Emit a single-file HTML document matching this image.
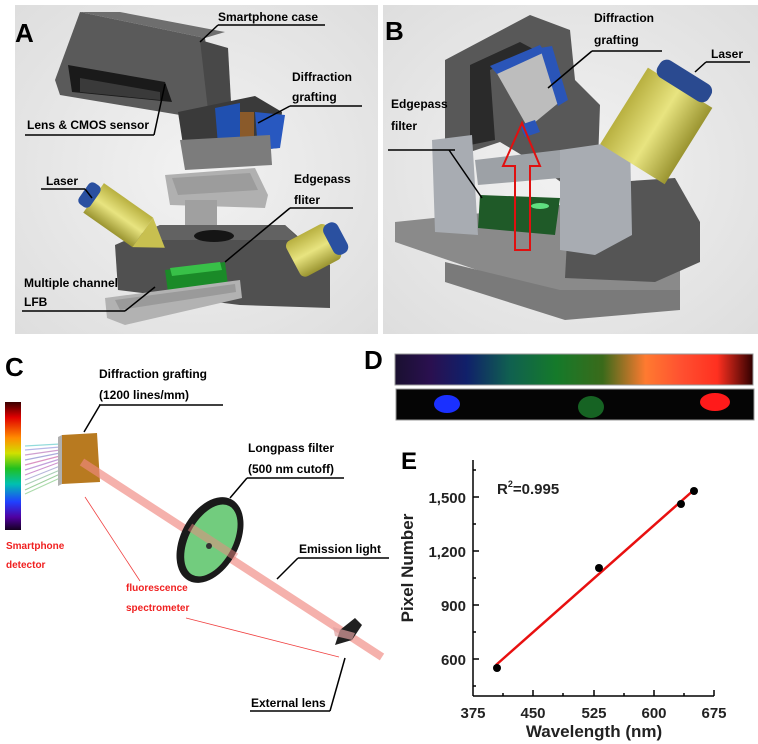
<!DOCTYPE html>
<html><head><meta charset="utf-8"><style>
html,body{margin:0;padding:0;background:#fff;}
svg{display:block;}
text{font-family:"Liberation Sans",sans-serif;font-weight:bold;}
</style></head><body>
<svg width="758" height="744" viewBox="0 0 758 744" xmlns="http://www.w3.org/2000/svg">
<defs>
<radialGradient id="bgA" cx="0.5" cy="0.5" r="0.7"><stop offset="0" stop-color="#f2f2f2"/><stop offset="1" stop-color="#dedede"/></radialGradient>
<linearGradient id="spec" x1="0" y1="0" x2="0" y2="1">
<stop offset="0" stop-color="#3a0000"/><stop offset="0.12" stop-color="#e00000"/><stop offset="0.28" stop-color="#ff8c00"/><stop offset="0.4" stop-color="#d0e000"/><stop offset="0.52" stop-color="#20c020"/><stop offset="0.64" stop-color="#00c0b0"/><stop offset="0.78" stop-color="#2040ff"/><stop offset="0.9" stop-color="#5000a0"/><stop offset="1" stop-color="#150020"/></linearGradient>
<linearGradient id="specD" x1="0" y1="0" x2="1" y2="0">
<stop offset="0" stop-color="#1a1030"/><stop offset="0.1" stop-color="#2a1050"/><stop offset="0.2" stop-color="#10206a"/><stop offset="0.32" stop-color="#106050"/><stop offset="0.45" stop-color="#157a2a"/><stop offset="0.58" stop-color="#3a6a1a"/><stop offset="0.7" stop-color="#ff7a30"/><stop offset="0.8" stop-color="#ff5030"/><stop offset="0.9" stop-color="#ff3020"/><stop offset="1" stop-color="#300000"/></linearGradient>
<linearGradient id="yel" x1="0" y1="0" x2="0" y2="1"><stop offset="0" stop-color="#b8b040"/><stop offset="0.5" stop-color="#e8e480"/><stop offset="1" stop-color="#9a9430"/></linearGradient>
</defs>

<!-- Panel A -->
<rect x="15" y="5" width="363" height="329" fill="url(#bgA)"/>
<polygon points="55,80 80,12 205,38 215,110 198,118 60,95" fill="#5a5a5a"/>
<polygon points="80,12 120,12 225,32 205,38" fill="#6e6e6e"/>
<polygon points="200,40 228,48 232,120 210,128" fill="#484848"/>
<polygon points="68,65 165,82 172,102 72,92" fill="#1a1a1a"/>
<polygon points="80,78 160,92 160,100 80,92" fill="#3a3a3a"/>
<polygon points="178,112 255,96 282,112 278,148 185,158" fill="#3a3a3a"/>
<polygon points="215,108 240,103 240,140 218,145" fill="#2050b0"/>
<polygon points="255,112 285,115 280,148 258,150" fill="#2858c0"/>
<rect x="240" y="112" width="14" height="28" fill="#8a5a2a"/>
<polygon points="180,140 270,135 272,165 185,170" fill="#7c7c7c"/>
<polygon points="165,175 255,168 268,195 265,208 170,205" fill="#b0b0b0"/>
<polygon points="172,178 250,173 258,190 178,195" fill="#9c9c9c"/>
<rect x="185" y="200" width="32" height="32" fill="#a0a0a0"/>
<polygon points="115,245 160,225 285,225 330,265 330,308 240,305 118,290" fill="#505050"/>
<polygon points="160,225 285,225 300,240 135,240" fill="#626262"/>
<ellipse cx="214" cy="236" rx="20" ry="6" fill="#151515"/>
<polygon points="165,270 225,262 228,285 168,292" fill="#1a8a28"/>
<polygon points="170,268 220,262 222,270 172,276" fill="#38c048"/>
<polygon points="105,298 240,280 242,298 125,325 107,318" fill="#b2b2b2"/>
<polygon points="115,300 235,284 236,292 120,310" fill="#9a9a9a"/>
<g transform="translate(128,222) rotate(35)"><rect x="-42" y="-18" width="60" height="36" fill="url(#yel)"/><polygon points="18,-18 45,0 18,18" fill="#c8c050"/><rect x="-54" y="-13" width="14" height="26" rx="5" fill="#2a50a0"/></g>
<g transform="translate(318,248) rotate(-28)"><rect x="-28" y="-20" width="46" height="40" rx="6" fill="url(#yel)"/><rect x="12" y="-17" width="16" height="34" rx="7" fill="#2a50a0"/></g>
<text x="15" y="42" font-size="26" fill="#000">A</text>
<g font-size="12" fill="#000">
<text x="218" y="21">Smartphone case</text><line x1="218" y1="25" x2="325" y2="25" stroke="#000" stroke-width="1.5"/><line x1="218" y1="25" x2="200" y2="42" stroke="#000" stroke-width="1.5"/>
<text x="292" y="81">Diffraction</text><text x="292" y="101">grafting</text><line x1="290" y1="106" x2="362" y2="106" stroke="#000" stroke-width="1.5"/><line x1="290" y1="106" x2="258" y2="123" stroke="#000" stroke-width="1.5"/>
<text x="27" y="129">Lens &amp; CMOS sensor</text><line x1="25" y1="135" x2="154" y2="135" stroke="#000" stroke-width="1.5"/><line x1="154" y1="135" x2="165" y2="84" stroke="#000" stroke-width="1.5"/>
<text x="46" y="185">Laser</text><line x1="41" y1="189" x2="85" y2="189" stroke="#000" stroke-width="1.5"/><line x1="85" y1="189" x2="92" y2="198" stroke="#000" stroke-width="1.5"/>
<text x="294" y="183">Edgepass</text><text x="294" y="204">fliter</text><line x1="290" y1="208" x2="353" y2="208" stroke="#000" stroke-width="1.5"/><line x1="290" y1="208" x2="225" y2="262" stroke="#000" stroke-width="1.5"/>
<text x="24" y="287">Multiple channel</text><text x="24" y="306">LFB</text><line x1="22" y1="311" x2="125" y2="311" stroke="#000" stroke-width="1.5"/><line x1="125" y1="311" x2="155" y2="287" stroke="#000" stroke-width="1.5"/>
</g>

<!-- Panel B -->
<rect x="383" y="5" width="375" height="329" fill="url(#bgA)"/>
<polygon points="395,222 560,205 680,268 680,292 565,300 395,242" fill="#8a8a8a"/>
<polygon points="445,262 560,290 680,290 680,310 565,320 445,282" fill="#7a7a7a"/>
<polygon points="570,185 675,178 700,222 700,262 655,282 565,278" fill="#555555"/>
<polygon points="445,60 530,15 570,30 575,80 600,105 598,162 565,185 530,160 500,142 470,152 445,140" fill="#585858"/>
<polygon points="470,65 520,42 535,50 490,70 495,140 470,145" fill="#2a2a2a"/>
<polygon points="495,70 540,48 562,100 528,128" fill="#bdbdbd"/>
<polygon points="490,66 540,45 545,52 497,74" fill="#2a55b8"/>
<polygon points="540,48 552,46 568,100 558,106" fill="#2a55b8"/>
<polygon points="520,125 535,120 540,132 525,137" fill="#2a55b8"/>
<polygon points="432,140 472,135 478,235 435,232" fill="#a8acb2"/>
<polygon points="560,150 630,140 632,235 595,255 560,250" fill="#a8acb2"/>
<polygon points="475,160 560,150 560,178 478,185" fill="#9da1a6"/>
<polygon points="480,195 560,198 555,235 478,228" fill="#1f5a28"/>
<ellipse cx="540" cy="206" rx="9" ry="3" fill="#60e080"/>
<g transform="translate(660,120) rotate(-58)"><rect x="-52" y="-38" width="90" height="76" fill="url(#yel)"/><rect x="36" y="-30" width="20" height="60" rx="8" fill="#2a4a90"/></g>
<polygon points="522,123 540,166 530,166 530,250 515,250 515,166 503,166" fill="none" stroke="#e01010" stroke-width="2"/>
<text x="385" y="40" font-size="26" fill="#000">B</text>
<g font-size="12" fill="#000">
<text x="594" y="22">Diffraction</text><text x="594" y="44">grafting</text><line x1="592" y1="51" x2="662" y2="51" stroke="#000" stroke-width="1.5"/><line x1="592" y1="51" x2="548" y2="88" stroke="#000" stroke-width="1.5"/>
<text x="711" y="58">Laser</text><line x1="706" y1="62" x2="750" y2="62" stroke="#000" stroke-width="1.5"/><line x1="706" y1="62" x2="695" y2="72" stroke="#000" stroke-width="1.5"/>
<text x="391" y="108">Edgepass</text><text x="391" y="130">filter</text><line x1="388" y1="150" x2="455" y2="150" stroke="#000" stroke-width="1.5"/><line x1="449" y1="150" x2="482" y2="198" stroke="#000" stroke-width="1.5"/>
</g>

<!-- Panel C -->
<text x="5" y="376" font-size="26" fill="#000">C</text>
<rect x="5" y="402" width="16" height="128" fill="url(#spec)"/>
<g stroke-width="1.2" opacity="0.75">
<line x1="25" y1="446" x2="60" y2="444" stroke="#70d0d0"/><line x1="25" y1="450" x2="60" y2="447" stroke="#a0a0e0"/>
<line x1="25" y1="455" x2="60" y2="450" stroke="#c080c0"/><line x1="25" y1="460" x2="60" y2="453" stroke="#9090d0"/>
<line x1="25" y1="465" x2="60" y2="456" stroke="#d070b0"/><line x1="25" y1="470" x2="60" y2="459" stroke="#b080d0"/>
<line x1="25" y1="475" x2="60" y2="462" stroke="#c070c0"/><line x1="25" y1="480" x2="60" y2="466" stroke="#a0a0d0"/>
<line x1="25" y1="485" x2="60" y2="470" stroke="#90c0a0"/><line x1="25" y1="490" x2="60" y2="474" stroke="#80c080"/>
<line x1="25" y1="494" x2="60" y2="478" stroke="#90d090"/>
</g>
<polygon points="58,437 62,435 62,484 58,486" fill="#b0b0b0"/>
<polygon points="62,435 97,433 100,482 62,484" fill="#b87a20"/>
<line x1="82" y1="462" x2="382" y2="657" stroke="#f08880" stroke-width="8" opacity="0.65"/>
<g transform="translate(210,540) rotate(28)">
<ellipse cx="0" cy="0" rx="29" ry="46" fill="#1a1a1a"/>
<ellipse cx="1" cy="0" rx="22" ry="39" fill="#72cc7e"/>
</g>
<line x1="190" y1="527" x2="236" y2="557" stroke="#f08880" stroke-width="8" opacity="0.5"/>
<circle cx="209" cy="546" r="3" fill="#333"/>
<polygon points="340,630 355,618 362,625 352,640 335,645" fill="#202020"/>
<polygon points="333,627 355,633 352,640 335,636" fill="#e0a0a0" opacity="0.7"/>
<line x1="85" y1="497" x2="140" y2="581" stroke="#f04040" stroke-width="0.8"/>
<line x1="186" y1="618" x2="339" y2="657" stroke="#f04040" stroke-width="0.8"/>
<g font-size="12" fill="#000">
<text x="99" y="378">Diffraction grafting</text><text x="99" y="399">(1200 lines/mm)</text><line x1="99" y1="405" x2="223" y2="405" stroke="#000" stroke-width="1.5"/><line x1="100" y1="405" x2="84" y2="432" stroke="#000" stroke-width="1.5"/>
<text x="248" y="452">Longpass filter</text><text x="248" y="473">(500 nm cutoff)</text><line x1="247" y1="478" x2="344" y2="478" stroke="#000" stroke-width="1.5"/><line x1="247" y1="478" x2="230" y2="498" stroke="#000" stroke-width="1.5"/>
<text x="299" y="553">Emission light</text><line x1="298" y1="558" x2="389" y2="558" stroke="#000" stroke-width="1.5"/><line x1="298" y1="558" x2="277" y2="579" stroke="#000" stroke-width="1.5"/>
<text x="251" y="707">External lens</text><line x1="250" y1="711" x2="330" y2="711" stroke="#000" stroke-width="1.5"/><line x1="330" y1="711" x2="345" y2="658" stroke="#000" stroke-width="1.5"/>
</g>
<g font-size="10" fill="#f02020">
<text x="6" y="549">Smartphone</text><text x="6" y="568">detector</text>
<text x="126" y="591">fluorescence</text><text x="126" y="611">spectrometer</text>
</g>

<!-- Panel D -->
<text x="364" y="369" font-size="26" fill="#000">D</text>
<rect x="395" y="354" width="358" height="31" fill="url(#specD)" stroke="#999" stroke-width="1"/>
<rect x="396" y="389" width="358" height="31" fill="#050505" stroke="#999" stroke-width="1"/>
<ellipse cx="447" cy="404" rx="13" ry="9" fill="#1a30ff"/>
<ellipse cx="591" cy="407" rx="13" ry="11" fill="#1a7a2a" opacity="0.8"/>
<ellipse cx="715" cy="402" rx="15" ry="9" fill="#ff1a1a"/>

<!-- Panel E -->
<text x="401" y="469" font-size="24" fill="#000">E</text>
<g stroke="#000" stroke-width="1.5" fill="none">
<line x1="473" y1="460" x2="473" y2="696"/><line x1="473" y1="696" x2="714" y2="696"/>
<line x1="473" y1="497" x2="479" y2="497"/><line x1="473" y1="551" x2="479" y2="551"/><line x1="473" y1="605" x2="479" y2="605"/><line x1="473" y1="659" x2="479" y2="659"/>
<line x1="473" y1="470" x2="476" y2="470"/><line x1="473" y1="524" x2="476" y2="524"/><line x1="473" y1="578" x2="476" y2="578"/><line x1="473" y1="632" x2="476" y2="632"/><line x1="473" y1="686" x2="476" y2="686"/>
<line x1="533" y1="696" x2="533" y2="690"/><line x1="594" y1="696" x2="594" y2="690"/><line x1="654" y1="696" x2="654" y2="690"/><line x1="714" y1="696" x2="714" y2="690"/>
<line x1="503" y1="696" x2="503" y2="693"/><line x1="563" y1="696" x2="563" y2="693"/><line x1="624" y1="696" x2="624" y2="693"/><line x1="684" y1="696" x2="684" y2="693"/>
</g>
<line x1="496" y1="665" x2="695" y2="489" stroke="#e81010" stroke-width="2.5"/>
<circle cx="497" cy="668" r="4" fill="#000"/><circle cx="599" cy="568" r="4" fill="#000"/><circle cx="681" cy="504" r="4" fill="#000"/><circle cx="694" cy="491" r="4" fill="#000"/>
<g font-size="15" fill="#222">
<text x="466" y="503" text-anchor="end">1,500</text><text x="466" y="557" text-anchor="end">1,200</text><text x="466" y="611" text-anchor="end">900</text><text x="466" y="665" text-anchor="end">600</text>
<text x="473" y="718" text-anchor="middle">375</text><text x="533" y="718" text-anchor="middle">450</text><text x="594" y="718" text-anchor="middle">525</text><text x="654" y="718" text-anchor="middle">600</text><text x="714" y="718" text-anchor="middle">675</text>
<text x="497" y="494">R<tspan font-size="9" dy="-7">2</tspan><tspan dy="7">=0.995</tspan></text>
</g>
<text x="594" y="737" font-size="17" fill="#222" text-anchor="middle">Wavelength (nm)</text>
<text transform="translate(413,568) rotate(-90)" font-size="17" fill="#222" text-anchor="middle">Pixel Number</text>
</svg>
</body></html>
